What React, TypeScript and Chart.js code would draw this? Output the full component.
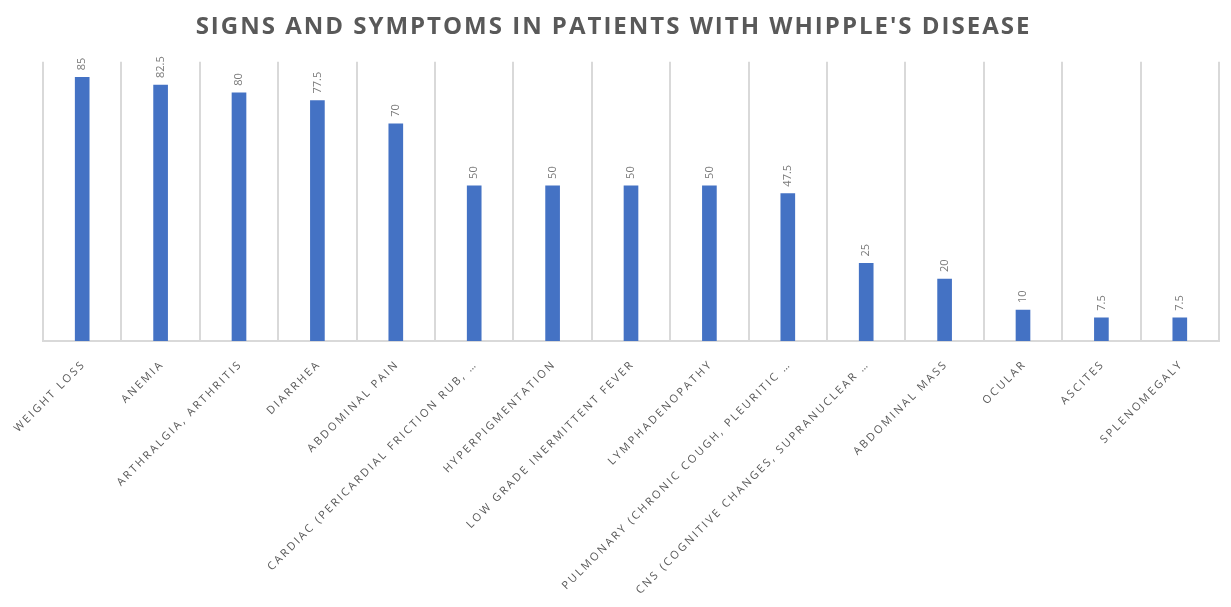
import React, { useEffect, useRef } from "react";
import { Chart, registerables } from "chart.js";

Chart.register(...registerables);

const categories: string[] = [
  "WEIGHT LOSS",
  "ANEMIA",
  "ARTHRALGIA, ARTHRITIS",
  "DIARRHEA",
  "ABDOMINAL PAIN",
  "CARDIAC (PERICARDIAL FRICTION RUB, …",
  "HYPERPIGMENTATION",
  "LOW GRADE INERMITTENT FEVER",
  "LYMPHADENOPATHY",
  "PULMONARY (CHRONIC COUGH, PLEURITIC …",
  "CNS (COGNITIVE CHANGES, SUPRANUCLEAR …",
  "ABDOMINAL MASS",
  "OCULAR",
  "ASCITES",
  "SPLENOMEGALY",
];

const percentages: number[] = [85, 82.5, 80, 77.5, 70, 50, 50, 50, 50, 47.5, 25, 20, 10, 7.5, 7.5];

const titleText = "SIGNS AND SYMPTOMS IN PATIENTS WITH WHIPPLE'S DISEASE";

const TICK_SPACING = 2.3;

function drawSpacedRightAligned(ctx: CanvasRenderingContext2D, text: string, spacing: number) {
  const chars = Array.from(text);
  const widths = chars.map((c) => ctx.measureText(c).width);
  const total = widths.reduce((a, b) => a + b, 0) + spacing * (chars.length - 1);
  let x = -total;
  ctx.textAlign = "left";
  chars.forEach((c, i) => {
    ctx.fillText(c, x, 0);
    x += widths[i] + spacing;
  });
}

const titleSpacingPlugin = {
  id: "titleSpacing",
  beforeDraw(chart: any) {
    chart.ctx.letterSpacing = "2px";
  },
};

const categoryLabelPlugin = {
  id: "categoryLabels",
  afterDraw(chart: any) {
    const ctx: CanvasRenderingContext2D = chart.ctx;
    const xScale = chart.scales.x;
    const labels = chart.data.labels as string[];
    ctx.save();
    (ctx as any).letterSpacing = "0px";
    ctx.font = "11px 'Open Sans', sans-serif";
    ctx.fillStyle = "#595959";
    ctx.textBaseline = "middle";
    labels.forEach((label, i) => {
      const px = xScale.getPixelForTick(i);
      const py = xScale.top + 23;
      ctx.save();
      ctx.translate(px, py);
      ctx.rotate(-Math.PI / 4);
      drawSpacedRightAligned(ctx, label, TICK_SPACING);
      ctx.restore();
    });
    ctx.restore();
  },
};

const valueLabelPlugin = {
  id: "valueLabels",
  afterDatasetsDraw(chart: any) {
    const ctx: CanvasRenderingContext2D = chart.ctx;
    const meta = chart.getDatasetMeta(0);
    const data = chart.data.datasets[0].data as number[];
    ctx.save();
    (ctx as any).letterSpacing = "0px";
    ctx.font = "11px 'Open Sans', sans-serif";
    ctx.fillStyle = "#7a7a7a";
    ctx.textAlign = "left";
    ctx.textBaseline = "middle";
    meta.data.forEach((bar: any, i: number) => {
      ctx.save();
      ctx.translate(bar.x, bar.y - 7);
      ctx.rotate(-Math.PI / 2);
      ctx.fillText(String(data[i]), 0, 0);
      ctx.restore();
    });
    ctx.restore();
  },
};

export default function App() {
  const ref = useRef<HTMLCanvasElement | null>(null);

  useEffect(() => {
    if (!ref.current) return;
    const chart = new Chart(ref.current, {
      type: "bar",
      data: {
        labels: categories,
        datasets: [
          {
            data: percentages,
            backgroundColor: "#4472C4",
            barThickness: 14,
          },
        ],
      },
      options: {
        animation: false,
        responsive: true,
        maintainAspectRatio: false,
        layout: { padding: { left: 0, right: 4, top: 0, bottom: 0 } },
        plugins: {
          legend: { display: false },
          tooltip: { enabled: false },
          title: {
            display: true,
            text: titleText,
            color: "#595959",
            font: { family: "'Open Sans', sans-serif", size: 24, weight: "bold", lineHeight: 1.2 },
            padding: { top: 5, bottom: 20 },
          },
        },
        scales: {
          x: {
            grid: {
              display: true,
              offset: true,
              color: "#d9d9d9",
              lineWidth: 2,
              drawTicks: false,
            },
            border: { display: true, color: "#d9d9d9", width: 2 },
            ticks: { display: false },
            afterFit(scale: any) {
              scale.height = 258;
              scale.paddingLeft = 0;
              scale.paddingRight = 0;
            },
          },
          y: {
            display: true,
            min: 0,
            max: 90,
            grid: { display: false },
            border: { display: false },
            ticks: { display: false },
            afterFit(scale: any) {
              scale.width = 35;
              scale.paddingTop = 0;
              scale.paddingBottom = 0;
            },
          },
        },
      },
      plugins: [titleSpacingPlugin, valueLabelPlugin, categoryLabelPlugin],
    });
    return () => chart.destroy();
  }, []);

  return (
    <div style={{ width: 1215, height: 591, position: "relative" }}>
      <canvas ref={ref} />
    </div>
  );
}
